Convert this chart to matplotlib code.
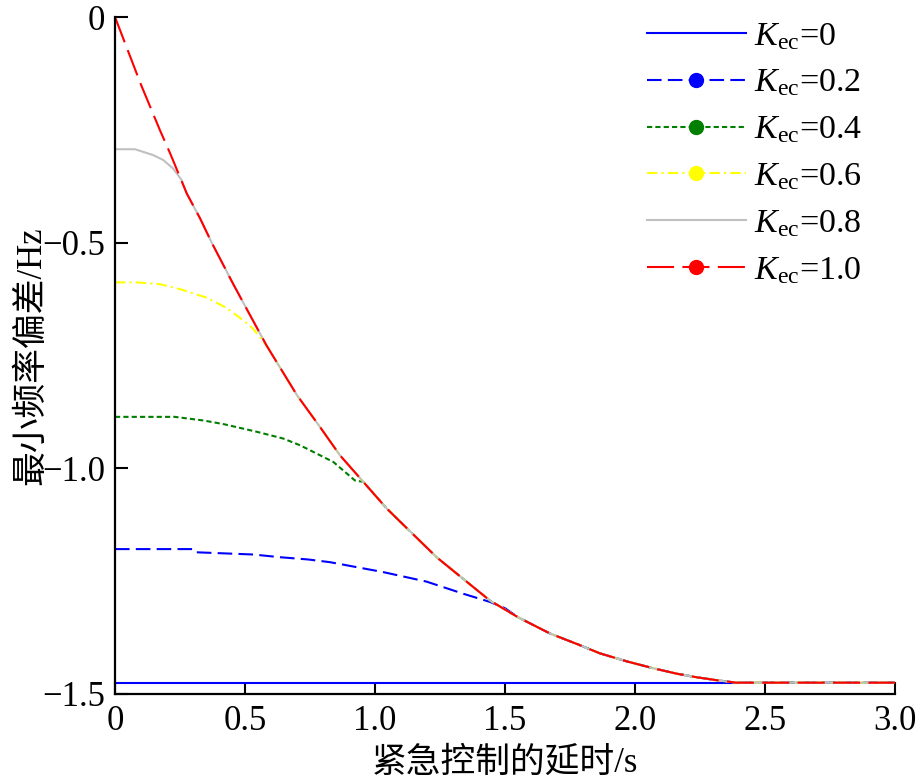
import matplotlib
matplotlib.use("Agg")
import matplotlib.pyplot as plt
from matplotlib.lines import Line2D

plt.rcParams["font.family"] = ["Liberation Serif", "Noto Sans CJK SC"]
plt.rcParams["mathtext.fontset"] = "custom"
plt.rcParams["mathtext.rm"] = "Liberation Serif"
plt.rcParams["mathtext.it"] = "Liberation Serif:italic"
plt.rcParams["axes.unicode_minus"] = True

# common curve (K_ec = 1.0), all other curves merge into it
master_x = [0, 0.05, 0.1, 0.147, 0.173, 0.212, 0.276, 0.327, 0.372, 0.455, 0.5, 0.583,
            0.7, 0.788, 0.865, 0.955, 1.045, 1.1, 1.237, 1.35, 1.442, 1.55, 1.673, 1.78,
            1.865, 1.97, 2.07, 2.16, 2.237, 2.32, 2.39, 2.5, 3.0]
master_y = [0, -0.075, -0.15, -0.215, -0.251, -0.302, -0.391, -0.446, -0.5, -0.592,
            -0.64, -0.728, -0.838, -0.908, -0.971, -1.03, -1.089, -1.12, -1.197, -1.25,
            -1.293, -1.33, -1.366, -1.39, -1.41, -1.428, -1.443, -1.455, -1.463, -1.47,
            -1.475, -1.475, -1.475]

# start of each curve before it joins the common curve
head_08_x = [0, 0.077, 0.147, 0.186, 0.224, 0.256]
head_08_y = [-0.293, -0.293, -0.306, -0.317, -0.336, -0.361]
head_06_x = [0, 0.083, 0.173, 0.25, 0.353, 0.43, 0.5, 0.53]
head_06_y = [-0.588, -0.588, -0.592, -0.603, -0.622, -0.645, -0.675, -0.69]
head_04_x = [0, 0.23, 0.34, 0.417, 0.545, 0.647, 0.712, 0.84, 0.923]
head_04_y = [-0.886, -0.886, -0.894, -0.902, -0.919, -0.934, -0.949, -0.986, -1.027]
head_02_x = [0, 0.3, 0.31, 0.532, 0.635, 0.743, 0.827, 1.032, 1.198, 1.34, 1.442, 1.5]
head_02_y = [-1.179, -1.179, -1.186, -1.191, -1.197, -1.202, -1.208, -1.23, -1.251,
             -1.278, -1.296, -1.31]
k0_x = [0, 2.4]
k0_y = [-1.475, -1.475]

labels = ["0", "0.2", "0.4", "0.6", "0.8", "1.0"]
colors = ["#0000ff", "#0000ff", "#007f00", "#ffff00", "#c0c0c0", "#ff0000"]


def join(hx, hy):
    xs = list(hx) + [x for x in master_x if x > hx[-1]]
    ys = list(hy) + [y for x, y in zip(master_x, master_y) if x > hx[-1]]
    return xs, ys


fig = plt.figure(figsize=(9.17, 7.8), dpi=100)
ax = fig.add_axes([0.1254, 0.1103, 0.8506, 0.8679])

lw = 1.5
ax.plot(k0_x, k0_y, color=colors[0], lw=lw, ls="-")
x, y = join(head_02_x, head_02_y)
ax.plot(x, y, color=colors[1], lw=lw, dashes=(7, 3))
x, y = join(head_04_x, head_04_y)
ax.plot(x, y, color=colors[2], lw=lw, dashes=(2.5, 1.5))
x, y = join(head_06_x, head_06_y)
ax.plot(x, y, color=colors[3], lw=lw, dashes=(5, 2, 1, 2))
x, y = join(head_08_x, head_08_y)
ax.plot(x, y, color=colors[4], lw=lw, ls="-")
ax.plot(master_x, master_y, color=colors[5], lw=lw, dashes=(13, 4))

ax.set_xlim(0, 3.0)
ax.set_ylim(-1.5, 0)
ax.set_xticks([0, 0.5, 1.0, 1.5, 2.0, 2.5, 3.0])
ax.set_xticklabels(["0", "0.5", "1.0", "1.5", "2.0", "2.5", "3.0"])
ax.set_yticks([0, -0.5, -1.0, -1.5])
ax.set_yticklabels(["0", "\u22120.5", "\u22121.0", "\u22121.5"])
ax.tick_params(direction="in", length=9, width=1.5, labelsize=25)
ax.tick_params(axis="x", pad=8)
ax.tick_params(axis="y", pad=7)
for s in ["top", "right"]:
    ax.spines[s].set_visible(False)
for s in ["left", "bottom"]:
    ax.spines[s].set_linewidth(1.6)

ax.set_xlabel("紧急控制的延时/s", fontsize=25, labelpad=6)
ax.set_ylabel("最小频率偏差/Hz", fontsize=25, labelpad=-4)

handles = [
    Line2D([], [], color=colors[0], lw=lw, ls="-"),
    Line2D([], [], color=colors[1], lw=lw, dashes=(7, 3), marker="o", ms=10),
    Line2D([], [], color=colors[2], lw=lw, dashes=(2.5, 1.5), marker="o", ms=10),
    Line2D([], [], color=colors[3], lw=lw, dashes=(5, 2, 1, 2), marker="o", ms=10),
    Line2D([], [], color=colors[4], lw=lw, ls="-"),
    Line2D([], [], color=colors[5], lw=lw, dashes=(13, 4), marker="o", ms=10),
]
leg_labels = [r"$K_{\mathrm{ec}}$=" + s for s in labels]
ax.legend(handles, leg_labels, loc="upper right", bbox_to_anchor=(0.958, 0.994),
          frameon=False, fontsize=24.5, handlelength=2.9, numpoints=1,
          labelspacing=0.47, handletextpad=0.25, borderaxespad=0.0, borderpad=0.0)

fig.savefig("out.png", dpi=100)
